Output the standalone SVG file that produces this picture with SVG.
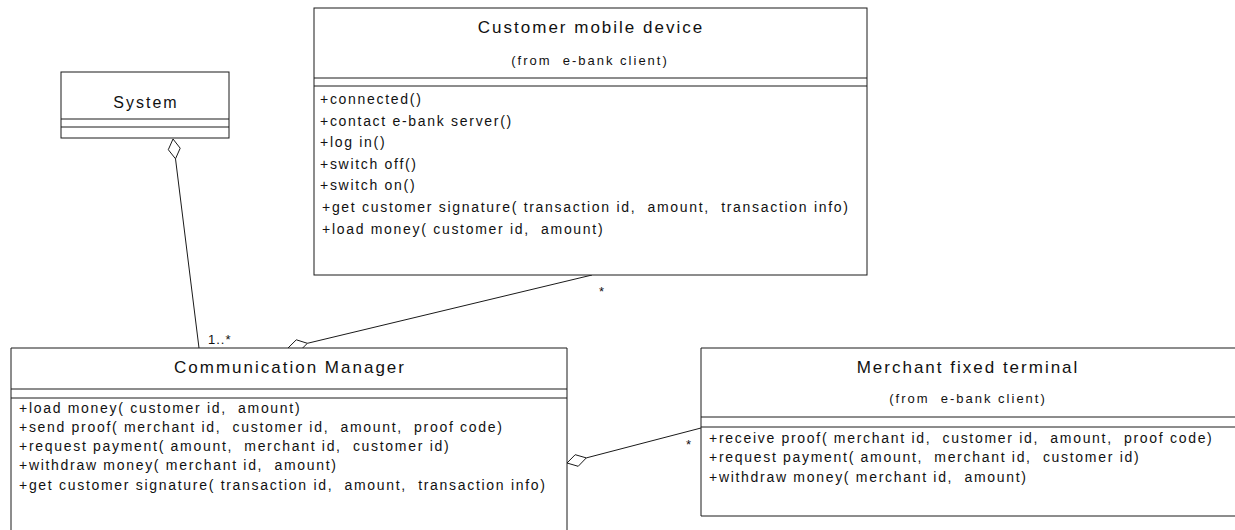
<svg xmlns="http://www.w3.org/2000/svg" width="1235" height="530" viewBox="0 0 1235 530">
  <style>
    .box { fill: #ffffff; stroke: #1a1a1a; stroke-width: 1; }
    .sep { stroke: #1a1a1a; stroke-width: 1; }
    .title { font-family: "Liberation Sans", Arial, sans-serif; font-size: 17px; letter-spacing: 2px; fill: #111; text-anchor: middle; }
    .sub { font-family: "Liberation Sans", Arial, sans-serif; font-size: 13px; letter-spacing: 2px; fill: #111; text-anchor: middle; }
    .op { font-family: "Liberation Sans", Arial, sans-serif; font-size: 14px; letter-spacing: 1.7px; fill: #111; }
    .mult { font-family: "Liberation Sans", Arial, sans-serif; font-size: 13px; letter-spacing: 1px; fill: #111; }
    .conn { stroke: #1a1a1a; stroke-width: 1; fill: none; }
    .agg { stroke: #1a1a1a; stroke-width: 1; fill: #ffffff; }
  </style>

  <!-- association lines with aggregation diamonds -->
  <g id="connectors">
    <line class="conn" x1="175.5" y1="158.8" x2="199" y2="348"/>
    <polygon class="agg" points="173,139 180.2,148.2 175.5,158.8 168.3,149.7"/>
    <text class="mult" x="208" y="344">1..*</text>

    <line class="conn" x1="307.4" y1="343.3" x2="592" y2="275"/>
    <polygon class="agg" points="288,348 296.3,339.8 307.4,343.3 299.1,351.5"/>
    <text class="mult" x="599" y="296">*</text>

    <line class="conn" x1="586.3" y1="457.9" x2="701" y2="428"/>
    <polygon class="agg" points="567,463 575.2,454.7 586.3,457.9 578.2,466.3"/>
    <text class="mult" x="686" y="449">*</text>
  </g>

  <g id="system">
    <rect class="box" x="61" y="72" width="168" height="66"/>
    <line class="sep" x1="61" y1="119" x2="229" y2="119"/>
    <line class="sep" x1="61" y1="127" x2="229" y2="127"/>
    <text class="title" x="146" y="108" style="font-size:16px">System</text>
  </g>

  <g id="customer-mobile-device">
    <rect class="box" x="314" y="8" width="553" height="267"/>
    <line class="sep" x1="314" y1="78" x2="867" y2="78"/>
    <line class="sep" x1="314" y1="86" x2="867" y2="86"/>
    <text class="title" x="591" y="33">Customer mobile device</text>
    <text class="sub" x="590" y="65">(from&#160; e-bank client)</text>
    <text class="op" x="320" y="104">+connected()</text>
    <text class="op" x="320" y="126">+contact e-bank server()</text>
    <text class="op" x="320" y="147">+log in()</text>
    <text class="op" x="320" y="169">+switch off()</text>
    <text class="op" x="320" y="190">+switch on()</text>
    <text class="op" x="322" y="212">+get customer signature( transaction id,&#160; amount,&#160; transaction info)</text>
    <text class="op" x="322" y="234">+load money( customer id,&#160; amount)</text>
  </g>

  <g id="communication-manager">
    <path class="box" d="M11,531 V348 H567 V531"/>
    <line class="sep" x1="11" y1="389" x2="567" y2="389"/>
    <line class="sep" x1="11" y1="398" x2="567" y2="398"/>
    <text class="title" x="290" y="373">Communication Manager</text>
    <text class="op" x="19" y="413">+load money( customer id,&#160; amount)</text>
    <text class="op" x="19" y="432">+send proof( merchant id,&#160; customer id,&#160; amount,&#160; proof code)</text>
    <text class="op" x="19" y="451">+request payment( amount,&#160; merchant id,&#160; customer id)</text>
    <text class="op" x="19" y="470">+withdraw money( merchant id,&#160; amount)</text>
    <text class="op" x="19" y="490">+get customer signature( transaction id,&#160; amount,&#160; transaction info)</text>
  </g>

  <g id="merchant-fixed-terminal">
    <path class="box" d="M1236,348 H701 V516 H1236"/>
    <line class="sep" x1="701" y1="417" x2="1235" y2="417"/>
    <line class="sep" x1="701" y1="427" x2="1235" y2="427"/>
    <text class="title" x="968" y="373">Merchant fixed terminal</text>
    <text class="sub" x="968" y="403">(from&#160; e-bank client)</text>
    <text class="op" x="709" y="443">+receive proof( merchant id,&#160; customer id,&#160; amount,&#160; proof code)</text>
    <text class="op" x="709" y="462">+request payment( amount,&#160; merchant id,&#160; customer id)</text>
    <text class="op" x="709" y="482">+withdraw money( merchant id,&#160; amount)</text>
  </g>
</svg>
